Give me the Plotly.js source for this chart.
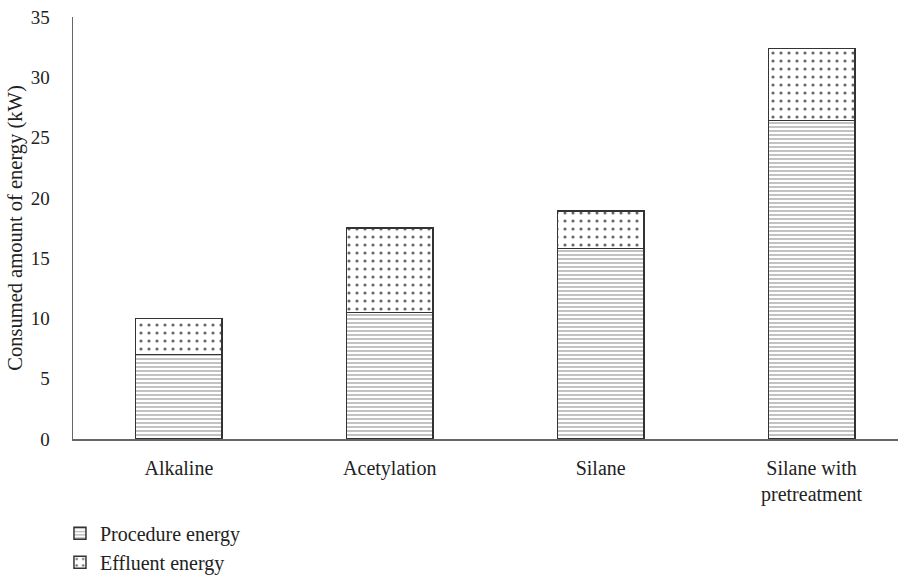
<!DOCTYPE html>
<html>
<head>
<meta charset="utf-8">
<script src="https://cdn.plot.ly/plotly-3.0.1.min.js"></script>
<style>html,body{margin:0;padding:0;background:#fff;}#chart{width:912px;height:580px;}</style>
</head>
<body>
<div id="chart"></div>
<script>
const categories = ["Alkaline", "Acetylation", "Silane", "Silane with<br>pretreatment"];
const procedureEnergy = [7.0, 10.5, 15.8, 26.4];
const effluentEnergy = [3.0, 7.0, 3.1, 6.0];
const seriesNames = ["Procedure energy", "Effluent energy"];
const yTicks = [0, 5, 10, 15, 20, 25, 30, 35];

const fam = "Liberation Serif, Times New Roman, serif";
const col = "#222";
const outline = {color: "#333", width: 1.5};

const traces = [
  {
    type: "bar", x: categories, y: procedureEnergy, name: seriesNames[0],
    width: 0.41,
    marker: {color: "#fff", line: outline,
      pattern: {shape: "-", fgcolor: "#999", bgcolor: "#fff", size: 4, solidity: 0.3}},
    hoverinfo: "y"
  },
  {
    type: "bar", x: categories, y: effluentEnergy, name: seriesNames[1],
    width: 0.41,
    marker: {color: "#fff", line: outline,
      pattern: {shape: ".", fgcolor: "#666", bgcolor: "#fff", size: 8, solidity: 0.12}},
    hoverinfo: "y"
  }
];

const layout = {
  width: 912, height: 580,
  margin: {l: 73, r: 14, t: 17, b: 141, autoexpand: false},
  paper_bgcolor: "#fff", plot_bgcolor: "#fff",
  barmode: "stack",
  font: {family: fam, size: 19, color: col},
  showlegend: true,
  legend: {x: -0.0158, xanchor: "left", y: -0.177, yanchor: "top",
    traceorder: "normal", font: {family: fam, size: 20, color: col}, bgcolor: "rgba(0,0,0,0)"},
  xaxis: {
    type: "category", range: [-0.502, 3.41],
    showline: true, linecolor: "#666", linewidth: 1.5,
    ticks: "outside", ticklen: 10, tickcolor: "rgba(0,0,0,0)",
    showgrid: false, zeroline: false,
    tickfont: {family: fam, size: 20, color: col}
  },
  yaxis: {
    range: [0, 35], tickvals: yTicks, ticktext: yTicks.map(String),
    showline: true, linecolor: "#666", linewidth: 1.5,
    ticks: "outside", ticklen: 18, tickcolor: "rgba(0,0,0,0)",
    showgrid: false, zeroline: false,
    tickfont: {family: fam, size: 19, color: col},
    title: {text: "Consumed amount of energy (kW)", font: {family: fam, size: 20.5, color: col}}
  }
};

Plotly.newPlot("chart", traces, layout, {displayModeBar: false, staticPlot: true});
</script>
</body>
</html>
